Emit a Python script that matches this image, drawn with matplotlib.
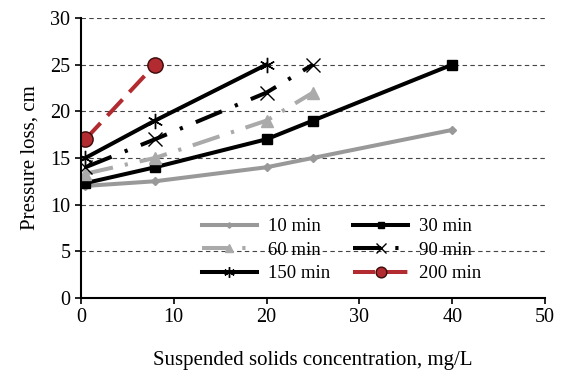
import matplotlib.pyplot as plt
import numpy as np

plt.rcParams['font.family'] = ['Liberation Serif', 'DejaVu Serif']

# Suspended solids concentration (mg/L) and pressure loss (cm) for each filtration time.
x_10 = [0.5, 8, 20, 25, 40]
y_10 = [12.0, 12.5, 14.0, 15.0, 18.0]
x_30 = [0.5, 8, 20, 25, 40]
y_30 = [12.3, 14.0, 17.0, 19.0, 25.0]
x_60 = [0.5, 8, 20, 25]
y_60 = [13.3, 15.0, 19.0, 22.0]
x_90 = [0.5, 8, 20, 25]
y_90 = [14.0, 17.0, 22.0, 25.0]
x_150 = [0.5, 8, 20]
y_150 = [15.0, 19.0, 25.0]
x_200 = [0.5, 8]
y_200 = [17.0, 25.0]

fig = plt.figure(figsize=(5.65, 3.72), dpi=100)
ax = fig.add_axes([0.143, 0.199, 0.822, 0.753])

lw = 2.9
l10, = ax.plot(x_10, y_10, color='#999999', lw=lw, marker='D', ms=4, label='10 min')
l30, = ax.plot(x_30, y_30, color='black', lw=lw, marker='s', ms=6.5, label='30 min')
l60, = ax.plot(x_60, y_60, color='#aaaaaa', lw=lw, marker='^', ms=9,
               dashes=(7, 3, 0.8, 3), label='60 min')
l90, = ax.plot(x_90, y_90, color='black', lw=lw, marker='x', ms=10, mew=1,
               dashes=(7, 3.5, 0.8, 3.5), label='90 min')
l150, = ax.plot(x_150, y_150, color='black', lw=lw, marker=(6, 2, 0), ms=11, mew=1,
                label='150 min')
l200, = ax.plot(x_200, y_200, color='#b22b30', lw=lw, marker='o', ms=11, mec='#3a0a0a',
                mew=1, dashes=(5.5, 2.5), label='200 min')

ax.set_xlim(0, 50)
ax.set_ylim(0, 30)
ax.set_xticks(np.arange(0, 51, 10))
ax.set_yticks(np.arange(0, 31, 5))
ax.yaxis.grid(True, linestyle=(0, (4, 3)), color='#444444', lw=0.8)
ax.set_axisbelow(True)
for s in ['top', 'right']:
    ax.spines[s].set_visible(False)
ax.spines['left'].set_linewidth(1.5)
ax.spines['bottom'].set_linewidth(1.5)
ax.tick_params(labelsize=14.5, direction='out', length=4, width=1.2)

ax.set_xlabel('Suspended solids concentration, mg/L', fontsize=15, labelpad=17)
ax.set_ylabel('Pressure loss, cm', fontsize=15, labelpad=8)

# row-wise order like the original: 10/30, 60/90, 150/200
handles = [l10, l60, l150, l30, l90, l200]
ax.legend(handles=handles, labels=[h.get_label() for h in handles],
          ncol=2, frameon=False, fontsize=13.5, handlelength=2.9,
          loc='lower left', bbox_to_anchor=(0.225, -0.005), columnspacing=1.25,
          labelspacing=0.35, handletextpad=0.6, markerscale=0.7)

fig.savefig('out.png', dpi=100)
